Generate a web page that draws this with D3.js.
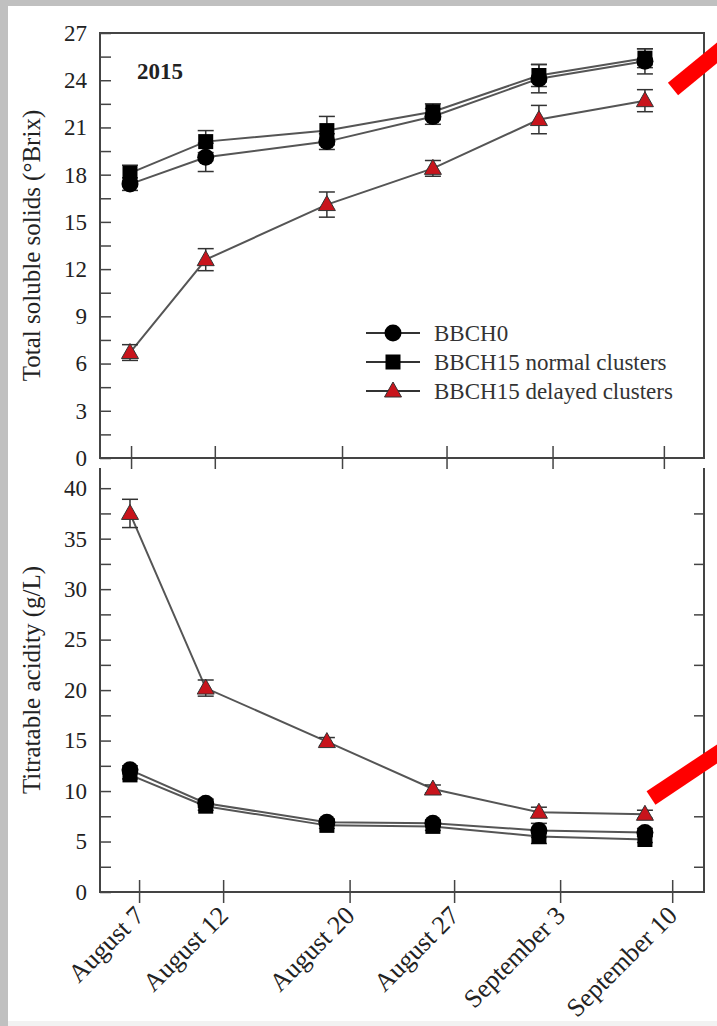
<!DOCTYPE html>
<html lang="en">
<head>
  <meta charset="UTF-8">
  <title>Total soluble solids and titratable acidity, 2015</title>
  <script src="https://d3js.org/d3.v7.min.js"></script>
  <style>
    body { margin: 0; background: #c0c0c0; }
    svg { display: block; font-family: "Liberation Serif", "Times New Roman", serif; }
    .tick text { font-family: "Liberation Serif", "Times New Roman", serif; font-size: 23px; fill: #222; }
    .date-axis .tick text { font-size: 26px; }
  </style>
</head>
<body>
  <div id="chart"></div>

  <script>
    // sampling dates
    const dates = ["2015-08-07", "2015-08-12", "2015-08-20", "2015-08-27", "2015-09-03", "2015-09-10"];
    const dateLabels = ["August 7", "August 12", "August 20", "August 27", "September 3", "September 10"];
    // where the original figure put its x ticks (days after August 7)
    const tickDaysTop = [0.07, 5.6, 14.0, 20.9, 27.9, 35.25];
    const tickDaysBottom = [0.6, 6.15, 14.5, 21.4, 28.4, 35.8];

    const seriesNames = ["BBCH0", "BBCH15 normal clusters", "BBCH15 delayed clusters"];

    // total soluble solids (°Brix)
    const tssBBCH0 = [17.4, 19.1, 20.1, 21.7, 24.1, 25.2];
    const tssBBCH0Err = [0.4, 0.9, 0.5, 0.5, 0.9, 0.8];
    const tssNormal = [18.1, 20.1, 20.8, 22.0, 24.3, 25.4];
    const tssNormalErr = [0.5, 0.7, 0.9, 0.5, 0.7, 0.6];
    const tssDelayed = [6.7, 12.6, 16.1, 18.4, 21.5, 22.7];
    const tssDelayedErr = [0.5, 0.7, 0.8, 0.5, 0.9, 0.7];

    // titratable acidity (g/L)
    const taBBCH0 = [12.1, 8.8, 6.9, 6.8, 6.1, 5.9];
    const taBBCH0Err = [0.4, 0.4, 0.3, 0.3, 0.7, 0.4];
    const taNormal = [11.6, 8.5, 6.6, 6.5, 5.5, 5.2];
    const taNormalErr = [0.4, 0.4, 0.3, 0.4, 0.7, 0.3];
    const taDelayed = [37.5, 20.2, 14.9, 10.2, 7.9, 7.7];
    const taDelayedErr = [1.4, 0.8, 0.4, 0.4, 0.5, 0.4];

    const tssTicks = d3.range(0, 27.01, 1.5);
    const taTicks = d3.range(0, 40.01, 2.5);
    const taRightTicks = d3.range(2.5, 40, 5);

    const W = 717, H = 1026;
    const left = 100, right = 704;
    const topPanel = { top: 33, bottom: 458 };
    const botPanel = { top: 468, bottom: 892 };
    const frameColor = "#444";
    const lineColor = "#555";
    const red = "#c8141c";

    const parse = d3.utcParse("%Y-%m-%d");
    const day0 = parse(dates[0]);
    const addDays = n => new Date(day0.getTime() + n * 864e5);

    const x = d3.scaleUtc()
      .domain([addDays(-1.98), addDays(37.9)])
      .range([left, right]);

    const yTss = d3.scaleLinear().domain([0, 27]).range([topPanel.bottom, topPanel.top]);
    const yTa = d3.scaleLinear().domain([0, 42]).range([botPanel.bottom, botPanel.top]);

    const svg = d3.select("#chart").append("svg")
      .attr("width", W)
      .attr("height", H);

    // page background (scan border)
    svg.append("rect").attr("width", W).attr("height", H).attr("fill", "#c0c0c0");
    svg.append("rect").attr("x", 8).attr("y", 6).attr("width", W - 8).attr("height", H - 6).attr("fill", "#f2f2f2");
    svg.append("rect").attr("x", 8).attr("y", 6).attr("width", W - 8).attr("height", H - 11).attr("fill", "#fff");

    function makeSeries(vals, errs) {
      return vals.map((v, i) => ({ date: parse(dates[i]), v: v, e: errs[i] }));
    }

    function drawPanel(y, series) {
      const g = svg.append("g");
      const line = d3.line().x(d => x(d.date)).y(d => y(d.v));

      series.forEach(s => {
        g.append("path")
          .datum(s.data)
          .attr("fill", "none")
          .attr("stroke", lineColor)
          .attr("stroke-width", 2)
          .attr("d", line);
      });

      // error bars
      series.forEach(s => {
        const eb = g.append("g").selectAll("g").data(s.data).join("g")
          .attr("stroke", "#333").attr("stroke-width", 1.5);
        eb.append("line")
          .attr("x1", d => x(d.date)).attr("x2", d => x(d.date))
          .attr("y1", d => y(d.v - d.e)).attr("y2", d => y(d.v + d.e));
        eb.append("line")
          .attr("x1", d => x(d.date) - 8).attr("x2", d => x(d.date) + 8)
          .attr("y1", d => y(d.v + d.e)).attr("y2", d => y(d.v + d.e));
        eb.append("line")
          .attr("x1", d => x(d.date) - 8).attr("x2", d => x(d.date) + 8)
          .attr("y1", d => y(d.v - d.e)).attr("y2", d => y(d.v - d.e));
      });

      series.forEach(s => {
        drawMarkers(g, s.data.map(d => [x(d.date), y(d.v)]), s.shape);
      });
    }

    function drawMarkers(g, pts, shape) {
      if (shape === "circle") {
        g.append("g").selectAll("circle").data(pts).join("circle")
          .attr("cx", d => d[0]).attr("cy", d => d[1]).attr("r", 8.5)
          .attr("fill", "#000");
      } else if (shape === "square") {
        g.append("g").selectAll("rect").data(pts).join("rect")
          .attr("x", d => d[0] - 7.5).attr("y", d => d[1] - 7.5)
          .attr("width", 15).attr("height", 15)
          .attr("fill", "#000");
      } else {
        g.append("g").selectAll("path").data(pts).join("path")
          .attr("d", d => `M${d[0]},${d[1] - 9}L${d[0] + 8.5},${d[1] + 6}L${d[0] - 8.5},${d[1] + 6}Z`)
          .attr("fill", red)
          .attr("stroke", "#333")
          .attr("stroke-width", 1);
      }
    }

    const shapes = ["circle", "square", "triangle"];

    // ----- top panel: total soluble solids -----
    svg.append("rect")
      .attr("x", left).attr("y", topPanel.top)
      .attr("width", right - left).attr("height", topPanel.bottom - topPanel.top)
      .attr("fill", "none").attr("stroke", frameColor).attr("stroke-width", 2);

    svg.append("g")
      .attr("transform", `translate(${left},0)`)
      .call(d3.axisLeft(yTss).tickValues(tssTicks).tickSize(-11).tickPadding(13)
        .tickFormat(d => d % 3 === 0 ? d : ""))
      .call(g => g.select(".domain").remove())
      .call(g => g.selectAll(".tick line").attr("stroke", frameColor).attr("stroke-width", 1.5));

    svg.append("g")
      .attr("transform", `translate(0,${topPanel.bottom})`)
      .call(d3.axisBottom(x).tickValues(tickDaysTop.map(addDays)).tickSize(11).tickFormat(""))
      .call(g => g.select(".domain").remove())
      .call(g => g.selectAll(".tick line").attr("y1", -12).attr("stroke", frameColor).attr("stroke-width", 1.5));

    drawPanel(yTss, [
      { data: makeSeries(tssBBCH0, tssBBCH0Err), shape: "circle" },
      { data: makeSeries(tssNormal, tssNormalErr), shape: "square" },
      { data: makeSeries(tssDelayed, tssDelayedErr), shape: "triangle" }
    ]);

    svg.append("text")
      .attr("x", 137).attr("y", 79)
      .attr("font-size", 23).attr("font-weight", "bold").attr("fill", "#222")
      .text("2015");

    // legend
    const legend = svg.append("g").attr("transform", "translate(366,333)");
    seriesNames.forEach((name, i) => {
      const row = legend.append("g").attr("transform", `translate(0,${i * 29})`);
      row.append("line").attr("x1", 0).attr("x2", 54)
        .attr("stroke", "#333").attr("stroke-width", 2);
      drawMarkers(row, [[27, 0]], shapes[i]);
      row.append("text")
        .attr("x", 68).attr("y", 8)
        .attr("font-size", 23).attr("fill", "#333")
        .text(name);
    });

    svg.append("text")
      .attr("transform", `translate(40,${(topPanel.top + topPanel.bottom) / 2}) rotate(-90)`)
      .attr("text-anchor", "middle")
      .attr("font-size", 25).attr("fill", "#222")
      .text("Total soluble solids (°Brix)");

    // ----- bottom panel: titratable acidity -----
    svg.append("path")
      .attr("d", `M${left},${botPanel.top}V${botPanel.bottom}H${right}V${botPanel.top}`)
      .attr("fill", "none").attr("stroke", frameColor).attr("stroke-width", 2);

    svg.append("g")
      .attr("transform", `translate(${left},0)`)
      .call(d3.axisLeft(yTa).tickValues(taTicks).tickSize(-11).tickPadding(13)
        .tickFormat(d => d % 5 === 0 ? d : ""))
      .call(g => g.select(".domain").remove())
      .call(g => g.selectAll(".tick line").attr("stroke", frameColor).attr("stroke-width", 1.5));

    svg.append("g")
      .attr("transform", `translate(${right},0)`)
      .call(d3.axisRight(yTa).tickValues(taRightTicks).tickSize(-10).tickFormat(""))
      .call(g => g.select(".domain").remove())
      .call(g => g.selectAll(".tick line").attr("stroke", frameColor).attr("stroke-width", 1.5));

    svg.append("g")
      .attr("class", "date-axis")
      .attr("transform", `translate(0,${botPanel.bottom})`)
      .call(d3.axisBottom(x).tickValues(tickDaysBottom.map(addDays)).tickSize(11)
        .tickFormat((d, i) => dateLabels[i]))
      .call(g => g.select(".domain").remove())
      .call(g => g.selectAll(".tick line").attr("y1", -12).attr("stroke", frameColor).attr("stroke-width", 1.5))
      .call(g => g.selectAll(".tick text")
        .attr("y", 0).attr("dy", 0)
        .attr("text-anchor", "end")
        .attr("transform", "translate(6,25) rotate(-45)"));

    drawPanel(yTa, [
      { data: makeSeries(taBBCH0, taBBCH0Err), shape: "circle" },
      { data: makeSeries(taNormal, taNormalErr), shape: "square" },
      { data: makeSeries(taDelayed, taDelayedErr), shape: "triangle" }
    ]);

    svg.append("text")
      .attr("transform", `translate(40,${(botPanel.top + botPanel.bottom) / 2}) rotate(-90)`)
      .attr("text-anchor", "middle")
      .attr("font-size", 25).attr("fill", "#222")
      .text("Titratable acidity (g/L)");

    // red pointer marks laid over the scan
    const arrows = [
      [[673, 89], [735, 38]],
      [[651, 798], [735, 742]]
    ];
    svg.append("g").selectAll("line").data(arrows).join("line")
      .attr("x1", d => d[0][0]).attr("y1", d => d[0][1])
      .attr("x2", d => d[1][0]).attr("y2", d => d[1][1])
      .attr("stroke", "#ff0000").attr("stroke-width", 16);
  </script>
</body>
</html>
